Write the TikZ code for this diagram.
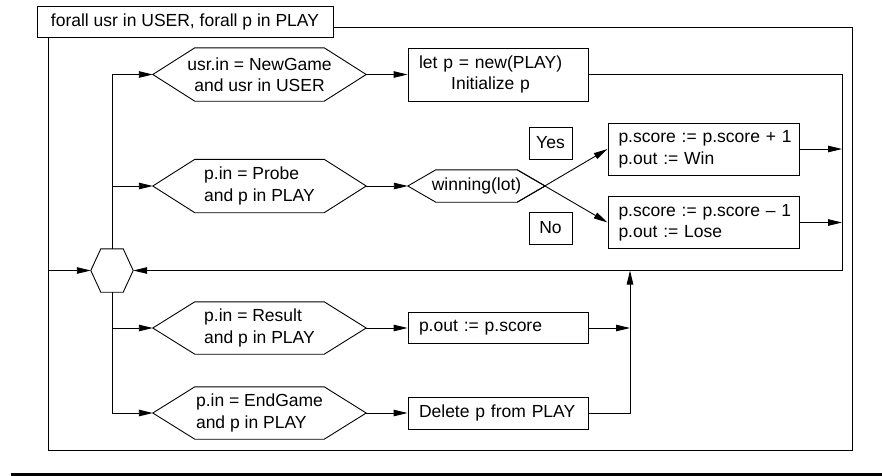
\documentclass[tikz,border=0pt]{standalone}
\usepackage{fontspec}
\setmainfont{Liberation Sans}
\usetikzlibrary{arrows.meta}
\tikzset{
  ln/.style={line width=0.9pt, line join=miter},
  arr/.style={ln, -{Triangle[length=14pt,width=6.5pt]}},
  box/.style={draw, ln, rectangle, inner sep=0pt},
  hexn/.style={inner sep=0pt, rectangle},
}
\newcommand\hexa[8]{%
  \node[hexn, minimum width=#4pt, minimum height=#5pt, align=#7] (#1) at (#2,#3) {#8};
  \draw[ln] (#1.west) -- ([xshift=#6pt]#1.north west) -- ([xshift=-#6pt]#1.north east)
    -- (#1.east) -- ([xshift=-#6pt]#1.south east) -- ([xshift=#6pt]#1.south west) -- cycle;
  \coordinate (#1-ne) at ([xshift=-#6pt]#1.north east);
  \coordinate (#1-se) at ([xshift=-#6pt]#1.south east);
}
\begin{document}
\begin{tikzpicture}[x=1pt,y=-1pt, every node/.style={font={\fontsize{17.5}{21.5}\selectfont}}]
\useasboundingbox (0,0) rectangle (882,475);
% frame
\node[box, minimum width=296pt, minimum height=31pt] (title) at (185,21.5) {forall usr in USER, forall p in PLAY};
\draw[ln] (333,27) -| (852,450) -| (48,37);
% hexagons
\hexa{hub}{112}{270.5}{42}{43}{10}{center}{}
\hexa{ng}{259.5}{74.5}{213}{53}{42}{center}{usr.in = NewGame\\and usr in USER}
\hexa{pr}{259.5}{186}{213}{53}{42}{left}{p.in = Probe\\and p in PLAY}
\hexa{rs}{259.5}{328}{213}{52}{42}{left}{p.in = Result\\and p in PLAY}
\hexa{eg}{259.5}{413}{213}{52}{42}{left}{p.in = EndGame\\and p in PLAY}
\hexa{wl}{476.5}{186}{137}{32}{28}{center}{winning(lot)}
% boxes
\node[box, minimum width=180pt, minimum height=53pt, text width=158pt, align=left] (letp) at (498,74.5)
  {\begin{tabular}{@{}c@{}}let p = new(PLAY)\\Initialize p\end{tabular}};
\node[box, minimum width=191pt, minimum height=52pt, text width=170pt, align=left] (win) at (703.5,149)
  {\begin{tabular}{@{}l@{}}p.score := p.score + 1\\p.out := Win\end{tabular}};
\node[box, minimum width=191pt, minimum height=52pt, text width=170pt, align=left] (lose) at (703.5,222.5)
  {\begin{tabular}{@{}l@{}}p.score := p.score -- 1\\p.out := Lose\end{tabular}};
\node[box, minimum width=43pt, minimum height=32pt] (yes) at (550.5,143) {Yes};
\node[box, minimum width=43pt, minimum height=32pt] (no) at (550.5,228) {No};
\node[box, minimum width=180pt, minimum height=31pt, text width=158pt, align=left] (res) at (498,328) {p.out := p.score};
\node[box, minimum width=180pt, minimum height=32pt, text width=158pt, align=left] (del) at (498,413) {Delete p from PLAY};
% junction coordinates
\coordinate (jr) at (842,270.5);
\coordinate (jb) at (630,270.5);
\coordinate (fl) at (48,270.5);
% connectors
\draw[arr] (fl) -- (hub.west);
\draw[arr] (letp.east) -| (jr) -- (hub.east);
\draw[arr] (win.east) -- (win.east -| jr);
\draw[arr] (lose.east) -- (lose.east -| jr);
\draw[arr] (res.east) -- (res.east -| jb);
\draw[arr] (del.east) -| (jb);
\draw[arr] (hub.north) |- (ng.west);
\draw[arr] (hub.north) |- (pr.west);
\draw[arr] (hub.south) |- (rs.west);
\draw[arr] (hub.south) |- (eg.west);
\draw[arr] (ng.east) -- (letp.west);
\draw[arr] (pr.east) -- (wl.west);
\draw[arr] (rs.east) -- (res.west);
\draw[arr] (eg.east) -- (del.west);
\draw[arr] (wl-se) -- (win.west);
\draw[arr] (wl-ne) -- (lose.west);
% bottom rule
\fill (11,473) rectangle (882,476);
\end{tikzpicture}
\end{document}
